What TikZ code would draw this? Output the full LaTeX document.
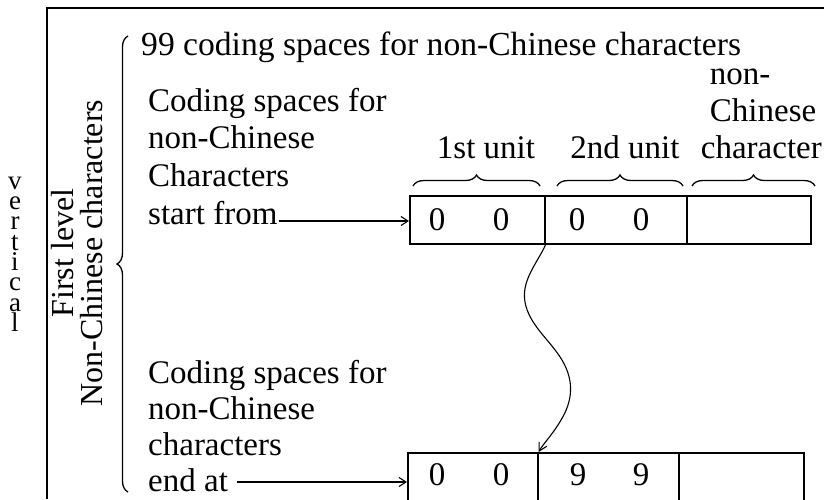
\documentclass[tikz,border=0pt]{standalone}
\usepackage{fontspec}
\setmainfont{Liberation Serif}
\usetikzlibrary{arrows.meta,decorations.pathreplacing,calc}
\begin{document}
\begin{tikzpicture}[x=1pt,y=-1pt,
  txt/.style={inner sep=0pt,anchor=base west,font=\fontsize{33}{36}\selectfont},
  lbl/.style={inner sep=0pt,anchor=base,font=\fontsize{33}{36}\selectfont},
  digit/.style={inner sep=0pt,anchor=base,font=\fontsize{33}{36}\selectfont},
  letter/.style={inner sep=0pt,anchor=base,text height=13pt,text depth=0pt,
    font=\fontsize{27}{27}\selectfont},
  cell/.style={draw,line width=1.6pt,inner sep=0pt,anchor=north west,minimum height=48pt},
  brc/.style={decorate,decoration={brace,amplitude=11pt},line width=1.3pt},
  arr/.style={line width=1.1pt,-{Straight Barb[length=7pt,width=9pt,line width=1.1pt]}},
  frame/.style={line width=1.6pt}]
\useasboundingbox (0,0) rectangle (824,499);

% outer frame (left and top edges)
\draw[frame] (47,499) -- (47,8) -- (824,8);

% stacked word on the far left, one letter per node
\foreach \ch [count=\i] in {v,e,r,t,i,c,a,l}
  \node[letter] (vl\i) at (15,{169+20.3*\i}) {\ch};

% rotated level label
\node[inner sep=0pt,align=center,rotate=90,font=\fontsize{32}{29}\selectfont]
  (level) at (77,253) {First level\\Non-Chinese characters};

% large brace spanning the whole level
\draw[brc] (128,492) -- (128,36);

% text column
\node[txt,font=\fontsize{33.6}{36}\selectfont] (head) at (141,55)
  {99 coding spaces for non-Chinese characters};
\node[txt] (s1) at (148,111) {Coding spaces for};
\node[txt] (s2) at (148,148) {non-Chinese};
\node[txt] (s3) at (148,186) {Characters};
\node[txt] (s4) at (148,224) {start from};
\node[txt] (e1) at (148,383) {Coding spaces for};
\node[txt] (e2) at (148,419) {non-Chinese};
\node[txt] (e3) at (148,455) {characters};
\node[txt] (e4) at (148,491) {end at};

% code boxes: first code
\node[cell,minimum width=135pt] (a1) at (409,195) {};
\node[cell,minimum width=142pt] (a2) at (544,195) {};
\node[cell,minimum width=124pt] (a3) at (686,195) {};
\node[digit] (a1x) at (437,230) {0};
\node[digit] (a1y) at (501,230) {0};
\node[digit] (a2x) at (577,230) {0};
\node[digit] (a2y) at (641,230) {0};

% code boxes: last code
\node[cell,minimum width=130pt] (b1) at (407,452) {};
\node[cell,minimum width=141pt] (b2) at (537,452) {};
\node[cell,minimum width=125pt] (b3) at (678,452) {};
\node[digit] (b1x) at (437,485) {0};
\node[digit] (b1y) at (501,485) {0};
\node[digit] (b2x) at (578,485) {9};
\node[digit] (b2y) at (641,485) {9};

% unit labels and braces
\node[lbl] (u1) at (486,158) {1st unit};
\node[lbl] (u2) at (625,158) {2nd unit};
\node[inner sep=0pt,anchor=base east,font=\fontsize{33}{36}\selectfont] (u3) at (822,158) {character};
\node[txt] (u3b) at ($(u3.base west)+(9,-37)$) {Chinese};
\node[txt] (u3a) at ($(u3.base west)+(9,-74)$) {non-};
\draw[brc] (413,186) -- (540,186);
\draw[brc] (557,186) -- (683,186);
\draw[brc] (692,186) -- (815,186);

% arrows into the boxes
\draw[arr] ($(s4.base east)+(1,-3)$) -- (a1.west |- {$(s4.base east)+(1,-3)$});
\draw[arr] ($(e4.base east)+(9,-9)$) -- (b1.west |- {$(e4.base east)+(9,-9)$});

% wavy link from first to last code
\coordinate (from) at (a1.south east);
\coordinate (to) at (b1.north east);
\draw[line width=1.1pt,-{Straight Barb[length=8pt,width=9pt,line width=1.1pt]}]
  (from) .. controls (538,262) and (521,280) .. (525,302)
         .. controls (529,325) and (550,340) .. (562,360)
         .. controls (575,382) and (572,402) .. (561,420)
         .. controls (553,434) and (543,444) .. (to);
\end{tikzpicture}
\end{document}
